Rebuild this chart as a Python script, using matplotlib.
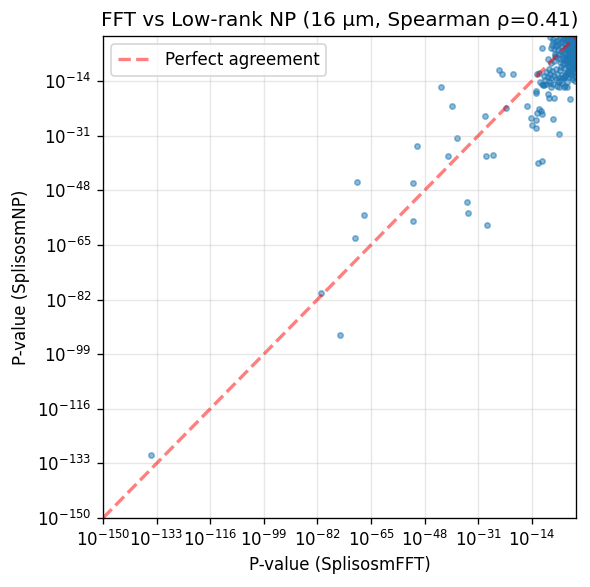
import numpy as np
import matplotlib
matplotlib.use("Agg")
import matplotlib.pyplot as plt

# log10 p-values (FFT on x, low-rank NP on y)
# scattered genes away from the corner
fft_out = [-134.9, -81.0, -74.9, -69.5, -67.3, -70.1, -50.3, -51.7, -51.7,
           -40.7, -37.8, -34.6, -34.3, -28.1, -28.4, -26.4, -12.2, -10.9,
           -14.1, -12.8, -12.8, -42.9, -39.4, -29.0, -24.3, -23.5, -20.0,
           -22.1, -15.6, -14.4, -12.3, -11.0, -10.7, -11.6, -7.4, -5.5,
           -12.7, -12.6, -9.0, -8.7, -7.1, -10.2, -10.7, -2.0, -5.5, -3.7,
           -2.8, -10.9, -9.0, -12.3, -11.6, -7.9, -6.8]
np_out = [-130.3, -80.1, -92.9, -45.3, -55.6, -63.0, -34.1, -45.6, -57.7,
          -37.4, -31.8, -51.5, -55.2, -58.9, -37.4, -37.1, -39.4, -39.0,
          -27.8, -28.7, -26.2, -16.0, -21.7, -24.8, -10.7, -11.7, -11.9,
          -22.3, -21.7, -25.4, -23.8, -23.3, -24.4, -22.8, -25.9, -30.4,
          -17.1, -17.6, -18.1, -19.2, -19.2, -15.3, -15.0, -19.5, -16.0, -16.0,
          -16.0, -3.8, -7.0, -11.9, -11.4, -8.3, -6.2]

# dense group near p = 1 in both methods
fft_core = [-0.1, -0.3, -0.5, -0.8, -1.2, -0.2, -1.5, -0.6, -2.1, -1.9,
            -0.4, -2.8, -3.3, -1.1, -2.5, -3.6, -0.9, -4.1, -1.7, -3.0,
            -4.6, -0.3, -2.2, -5.0, -3.8, -1.4, -5.4, -0.7, -2.9, -4.4,
            -5.8, -6.2, -1.0, -3.5, -6.5, -0.2, -2.4, -5.1, -6.8, -7.2,
            -0.5, -1.8, -4.0, -7.0, -7.6, -0.05, -0.2, -0.7, -0.4, -1.3,
            -0.1, -1.0, -2.3, -0.6, -1.6, -3.1, -2.6, -0.15, -1.2, -2.0,
            -3.4, -4.3, -0.8, -1.9, -3.2, -4.8, -5.6, -0.3, -1.5, -2.7,
            -4.1, -5.3, -6.0, -0.9, -2.1, -3.6, -5.0, -6.3, -6.9, -7.4,
            -8.0, -8.3, -0.1, -0.6, -1.1, -0.3, -0.9, -1.6, -0.2, -0.5,
            -2.4, -1.4, -0.8, -3.9, -0.4, -1.7, -2.9, -0.1, -0.7, -1.2,
            -0.3, -2.2, -0.6, -1.0, -0.2, -0.4, -1.9, -0.9, -0.1, -0.5,
            -1.0, -2.5, -3.8, -5.2, -6.4, -7.5, -8.6, -9.4, -0.4, -1.7,
            -3.1, -4.5, -5.9, -7.0, -8.1, -9.0, -10.1, -2.3, -3.7, -5.0,
            -6.5, -7.8, -8.7, -9.8, -1.2, -2.9, -4.3, -5.7, -7.2, -8.4,
            -9.5, -3.5, -6.0, -7.9, -10.4, -11.3, -0.6, -1.4, -2.0, -3.3,
            -4.7, -0.2, -0.8, -1.5, -2.6, -0.35, -1.1, -0.05, -0.45, -0.25,
            -0.1, -0.3, -0.5, -0.7, -0.9, -1.1, -1.3, -1.5, -1.8, -2.1,
            -0.2, -0.4, -0.6, -0.8, -1.0, -1.2, -1.4, -1.7, -2.0, -2.4,
            -0.15, -0.35, -0.55, -0.75, -0.95, -1.25, -1.6, -1.9, -2.3, -2.8,
            -0.1, -0.3, -0.5, -0.7, -1.0, -1.3, -1.7, -2.2, -2.7, -3.2,
            -0.2, -0.5, -0.8, -1.1, -1.5, -2.0, -2.6, -3.4, -4.2, -5.1,
            -0.3, -0.6, -1.0, -1.4, -1.9, -2.5, -3.1, -3.9, -4.6, -5.5]
np_core = [-0.2, -0.5, -0.1, -0.9, -0.4, -1.3, -1.8, -2.2, -0.7, -2.6,
           -3.1, -1.5, -0.3, -3.7, -3.4, -2.2, -4.5, -1.0, -4.9, -4.3,
           -3.0, -5.6, -5.8, -0.6, -5.2, -6.3, -2.4, -7.0, -6.7, -6.0,
           -4.4, -1.6, -7.9, -7.6, -3.2, -8.6, -8.3, -7.3, -5.5, -0.9,
           -9.4, -9.8, -8.8, -7.8, -2.8, -0.05, -0.7, -0.3, -1.6, -1.1,
           -2.4, -2.9, -2.0, -4.0, -3.3, -1.2, -0.2, -4.8, -5.3, -4.6,
           -3.6, -1.9, -6.0, -6.9, -5.6, -4.8, -1.2, -7.4, -8.1, -7.4,
           -6.8, -5.6, -2.7, -8.9, -9.4, -8.5, -8.2, -6.6, -4.1, -1.9,
           -3.6, -0.4, -0.6, -1.0, -0.2, -2.0, -1.5, -0.8, -3.5, -2.7,
           -0.5, -4.2, -5.0, -0.9, -6.5, -1.4, -3.8, -7.2, -5.9, -0.15,
           -2.1, -3.0, -0.1, -1.8, -4.4, -0.35, -0.3, -2.5, -1.2, -0.6,
           -10.3, -10.8, -10.1, -10.6, -10.2, -10.9, -10.4, -11.2, -11.5, -11.9,
           -11.6, -12.0, -11.7, -12.3, -11.8, -12.7, -12.4, -12.8, -13.2, -13.0,
           -13.4, -13.1, -13.9, -13.6, -13.5, -14.2, -14.5, -14.1, -14.8, -14.6,
           -15.0, -15.4, -15.6, -15.9, -15.2, -14.4, -9.1, -10.0, -11.0, -12.2,
           -9.6, -12.5, -13.3, -10.7, -9.2, -14.0, -11.4, -0.25, -0.05, -0.45,
           -0.8, -1.4, -2.1, -2.9, -3.6, -4.4, -5.3, -6.1, -7.0, -7.8,
           -0.3, -1.0, -1.7, -2.5, -3.3, -4.0, -4.9, -5.7, -6.6, -7.5,
           -0.6, -1.2, -1.9, -2.7, -3.5, -4.3, -5.1, -6.0, -6.9, -8.2,
           -0.1, -0.9, -1.5, -2.3, -3.0, -3.8, -4.6, -5.4, -6.3, -7.2,
           -8.0, -8.7, -9.3, -9.9, -10.5, -11.1, -11.8, -12.4, -13.0, -13.7,
           -8.4, -9.0, -9.7, -10.3, -10.9, -11.5, -12.1, -12.9, -13.5, -14.2]

fft_exp = np.array(fft_out + fft_core)
np_exp = np.array(np_out + np_core)
fft_p = 10.0 ** fft_exp
np_p = 10.0 ** np_exp

lo, hi = 1e-150, 1.0
ticks = 10.0 ** np.arange(-150, 0, 17)

fig = plt.figure(figsize=(590 / 120, 587 / 120), dpi=120)
ax = fig.add_axes([0.1746, 0.1175, 0.8017, 0.8211])

ax.scatter(fft_p, np_p, s=10, alpha=0.5)
ax.plot([lo, hi], [lo, hi], 'r--', alpha=0.5, lw=2, label='Perfect agreement')
ax.set_xscale('log')
ax.set_yscale('log')
ax.set_xlim(lo, hi)
ax.set_ylim(lo, hi)
ax.set_xticks(ticks)
ax.set_yticks(ticks)
ax.minorticks_off()
ax.set_xlabel('P-value (SplisosmFFT)')
ax.set_ylabel('P-value (SplisosmNP)')
ax.set_title('FFT vs Low-rank NP (16 μm, Spearman ρ=0.41)')
ax.legend(loc='upper left')
ax.grid(True, alpha=0.3)

fig.savefig('out.png', dpi=120)
